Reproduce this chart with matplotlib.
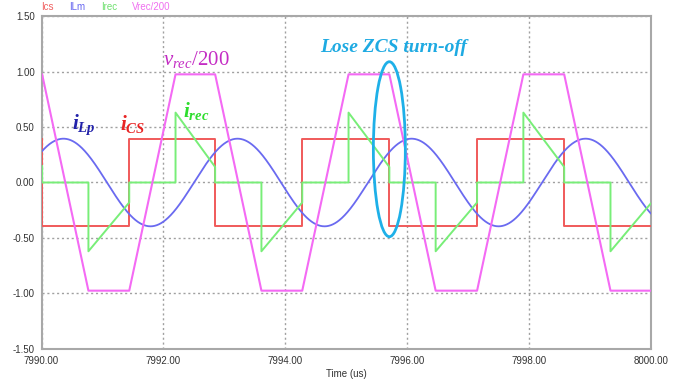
import numpy as np
import matplotlib
matplotlib.use("Agg")
import matplotlib.pyplot as plt
from matplotlib.patches import Ellipse

# ---- waveform data (time in us) ----
# capacitor current iCS: step levels starting at each switching instant
ics_t = [7990.00, 7990.01, 7991.44, 7992.85, 7994.28, 7995.71, 7997.15, 7998.58, 8000.00]
ics_v = [0.39, -0.39, 0.39, -0.39, 0.39, -0.39, 0.39, -0.39, -0.39]

# rectified voltage / 200 (trapezoid corners)
vrec_t = [7990.00, 7990.01, 7990.77, 7991.44, 7992.20, 7992.85, 7993.61, 7994.28,
          7995.04, 7995.71, 7996.47, 7997.15, 7997.91, 7998.58, 7999.34, 8000.00]
vrec_v = [0.975, 0.975, -0.975, -0.975, 0.975, 0.975, -0.975, -0.975,
          0.975, 0.975, -0.975, -0.975, 0.975, 0.975, -0.975, -0.975]

# rectifier current irec (corner points)
irec_t = [7990.00, 7990.01, 7990.01, 7990.77, 7990.77, 7991.44, 7991.44,
          7992.20, 7992.20, 7992.85, 7992.85, 7993.61, 7993.61, 7994.28, 7994.28,
          7995.04, 7995.04, 7995.71, 7995.71, 7996.47, 7996.47, 7997.15, 7997.15,
          7997.91, 7997.91, 7998.58, 7998.58, 7999.34, 7999.34, 8000.00]
irec_v = [0.15, 0.15, 0.00, 0.00, -0.62, -0.18, 0.00,
          0.00, 0.63, 0.14, 0.00, 0.00, -0.62, -0.18, 0.00,
          0.00, 0.63, 0.14, 0.00, 0.00, -0.62, -0.18, 0.00,
          0.00, 0.63, 0.14, 0.00, 0.00, -0.62, -0.19]

# magnetizing current iLm: sinusoid amplitude, period and time of first peak
ilm_amp = 0.395
ilm_period = 2.857
ilm_peak = 7990.36

x_ticks = [7990, 7992, 7994, 7996, 7998, 8000]
y_ticks = [-1.5, -1.0, -0.5, 0.0, 0.5, 1.0, 1.5]

plt.rcParams['mathtext.fontset'] = 'custom'
plt.rcParams['mathtext.rm'] = 'Liberation Serif'
plt.rcParams['mathtext.it'] = 'Liberation Serif:italic'
plt.rcParams['mathtext.bf'] = 'Liberation Serif:italic:bold'

fig = plt.figure(figsize=(6.84, 3.83), dpi=100)
ax = fig.add_axes([0.0607, 0.089, 0.8906, 0.869])

c_red = '#f05a5a'
c_blue = '#6a6af0'
c_green = '#78ee78'
c_mag = '#f46af4'

t_ilm = np.linspace(7990, 8000, 2000)
ilm = ilm_amp * np.cos(2 * np.pi * (t_ilm - ilm_peak) / ilm_period)

ax.plot(ics_t, ics_v, drawstyle='steps-post', color=c_red, lw=1.4, zorder=3)
ax.plot(t_ilm, ilm, color=c_blue, lw=1.3, zorder=3)
ax.plot(irec_t, irec_v, color=c_green, lw=1.4, zorder=3)
ax.plot(vrec_t, vrec_v, color=c_mag, lw=1.5, zorder=3)

ax.set_xlim(7990, 8000)
ax.set_ylim(-1.5, 1.5)
ax.set_xticks(x_ticks)
ax.set_yticks(y_ticks)
ax.set_xticklabels([f"{v:.2f}" for v in x_ticks])
ax.set_yticklabels([f"{v:.2f}" for v in y_ticks])
ax.tick_params(length=0, labelsize=7, labelcolor='#333333', pad=5,
               labelfontfamily='Liberation Sans')
ax.grid(True, color='#a0a0a0', linestyle=(0, (1.5, 2.0)), lw=1.0)
for s in ax.spines.values():
    s.set_color('#a8a8a8')
    s.set_linewidth(1.5)
ax.set_xlabel('Time (us)', fontsize=7, color='#333333', family='Liberation Sans', labelpad=2)

# channel names along the top
for x, name, c in [(41, 'Ics', '#f06060'), (69, 'ILm', '#6868f0'),
                   (101, 'Irec', '#6fe06f'), (132, 'Vrec/200', '#f070f0')]:
    fig.text(x / 684, 1 - 7 / 383, name, color=c, fontsize=7, va='center',
             family='Liberation Sans')

# signal labels
ax.text(7990.50, 0.48, r'$\mathbf{i}_{\mathbf{Lp}}$', color='#2222aa', fontsize=15, va='baseline')
ax.text(7991.29, 0.47, r'$\mathbf{i}_{\mathbf{CS}}$', color='#e82424', fontsize=15, va='baseline')
ax.text(7992.32, 0.59, r'$\mathbf{i}_{\mathbf{rec}}$', color='#2ddd2d', fontsize=15, va='baseline')
ax.text(7992.0, 1.06, r'$v_{rec}$/200', color='#c42cc4', fontsize=15, va='baseline',
        family='Liberation Serif')
ax.text(7994.57, 1.18, 'Lose ZCS turn-off', color='#1eaae2', fontsize=14, va='baseline',
        family='Liberation Serif', style='italic', weight='bold')

ax.add_patch(Ellipse((7995.71, 0.30), 0.525, 1.577, fill=False, ec='#1eb0e8', lw=2.0, zorder=4))

fig.savefig('out.png', dpi=100)
